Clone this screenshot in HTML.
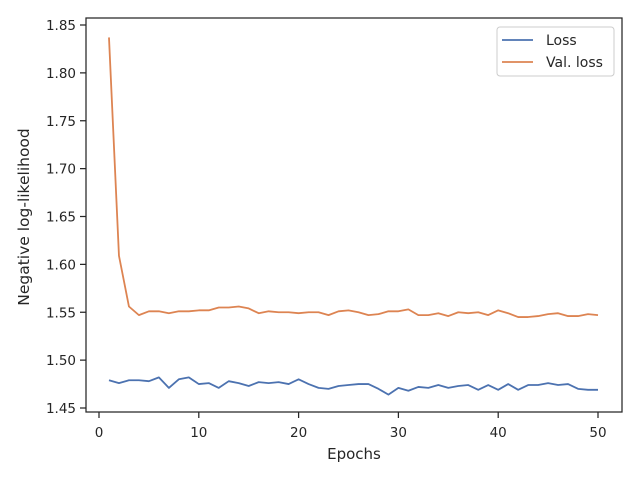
<!DOCTYPE html>
<html><head><meta charset="utf-8"><style>
body{margin:0;background:#fff;}
svg{font-family:"DejaVu Sans","Liberation Sans",sans-serif;}
</style></head><body>
<svg id="chart" width="640" height="480" viewBox="0 0 640 480" xmlns="http://www.w3.org/2000/svg">
<rect x="0" y="0" width="640" height="480" fill="#fff"/>
<g id="grid"></g>
<g id="series"></g>
<rect x="86" y="18" width="536" height="394" fill="none" stroke="#262626" stroke-width="1.25"/>
<g id="axes"></g>
<text x="354" y="459" font-size="15" text-anchor="middle" fill="#262626">Epochs</text>
<text transform="translate(29,217) rotate(-90)" font-size="15.5" text-anchor="middle" fill="#262626">Negative log-likelihood</text>
<g>
<rect x="497" y="27" width="117" height="49" rx="3" fill="#fff" stroke="#ccc" stroke-width="1"/>
<line x1="502" y1="40" x2="533" y2="40" stroke="#4c72b0" stroke-width="1.8"/>
<text x="546" y="45" font-size="14" fill="#262626">Loss</text>
<line x1="502" y1="62" x2="533" y2="62" stroke="#dd8452" stroke-width="1.8"/>
<text x="546" y="67" font-size="14" fill="#262626">Val. loss</text>
</g>
</svg>
<script>
const lossValues=[1.479,1.476,1.479,1.479,1.478,1.482,1.471,1.480,1.482,1.475,1.476,1.471,1.478,1.476,1.473,1.477,1.476,1.477,1.475,1.480,1.475,1.471,1.470,1.473,1.474,1.475,1.475,1.470,1.464,1.471,1.468,1.472,1.471,1.474,1.471,1.473,1.474,1.469,1.474,1.469,1.475,1.469,1.474,1.474,1.476,1.474,1.475,1.470,1.469,1.469];
const valLossValues=[1.837,1.609,1.556,1.547,1.551,1.551,1.549,1.551,1.551,1.552,1.552,1.555,1.555,1.556,1.554,1.549,1.551,1.550,1.550,1.549,1.550,1.550,1.547,1.551,1.552,1.550,1.547,1.548,1.551,1.551,1.553,1.547,1.547,1.549,1.546,1.550,1.549,1.550,1.547,1.552,1.549,1.545,1.545,1.546,1.548,1.549,1.546,1.546,1.548,1.547];
const xTicks=[0,10,20,30,40,50];
const yTicks=[1.45,1.50,1.55,1.60,1.65,1.70,1.75,1.80,1.85];
const NS="http://www.w3.org/2000/svg";
function xs(v){return 99+v*(598-99)/50;}
function ys(v){return 408-(v-1.45)*(408-25)/0.40;}
const axes=document.getElementById('axes');
const series=document.getElementById('series');
xTicks.forEach(t=>{
 const l=document.createElementNS(NS,'line');
 
 
 l.setAttribute('x1',xs(t));l.setAttribute('x2',xs(t));l.setAttribute('y1',412);l.setAttribute('y2',418);
 l.setAttribute('stroke','#262626');l.setAttribute('stroke-width','1.25');axes.appendChild(l);
 const tx=document.createElementNS(NS,'text');
 
 
 tx.setAttribute('x',xs(t));tx.setAttribute('y',437);tx.setAttribute('font-size','13.5');
 tx.setAttribute('text-anchor','middle');tx.setAttribute('fill','#262626');tx.textContent=t;axes.appendChild(tx);
});
yTicks.forEach(t=>{
 const l=document.createElementNS(NS,'line');
 
 
 l.setAttribute('x1',80);l.setAttribute('x2',86);l.setAttribute('y1',ys(t));l.setAttribute('y2',ys(t));
 l.setAttribute('stroke','#262626');l.setAttribute('stroke-width','1.25');axes.appendChild(l);
 const tx=document.createElementNS(NS,'text');
 
 
 tx.setAttribute('x',76);tx.setAttribute('y',ys(t)+5);tx.setAttribute('font-size','13.5');
 tx.setAttribute('text-anchor','end');tx.setAttribute('fill','#262626');tx.textContent=t.toFixed(2);axes.appendChild(tx);
});
function drawLine(vals,color,name){
 const p=document.createElementNS(NS,'polyline');
 
 
 p.setAttribute('points',vals.map((v,i)=>xs(i+1)+','+ys(v)).join(' '));
 p.setAttribute('fill','none');p.setAttribute('stroke',color);p.setAttribute('stroke-width','1.8');
 p.setAttribute('stroke-linejoin','round');
 series.appendChild(p);
}
drawLine(lossValues,'#4c72b0','loss-line');
drawLine(valLossValues,'#dd8452','val-loss-line');
</script>
</body></html>
